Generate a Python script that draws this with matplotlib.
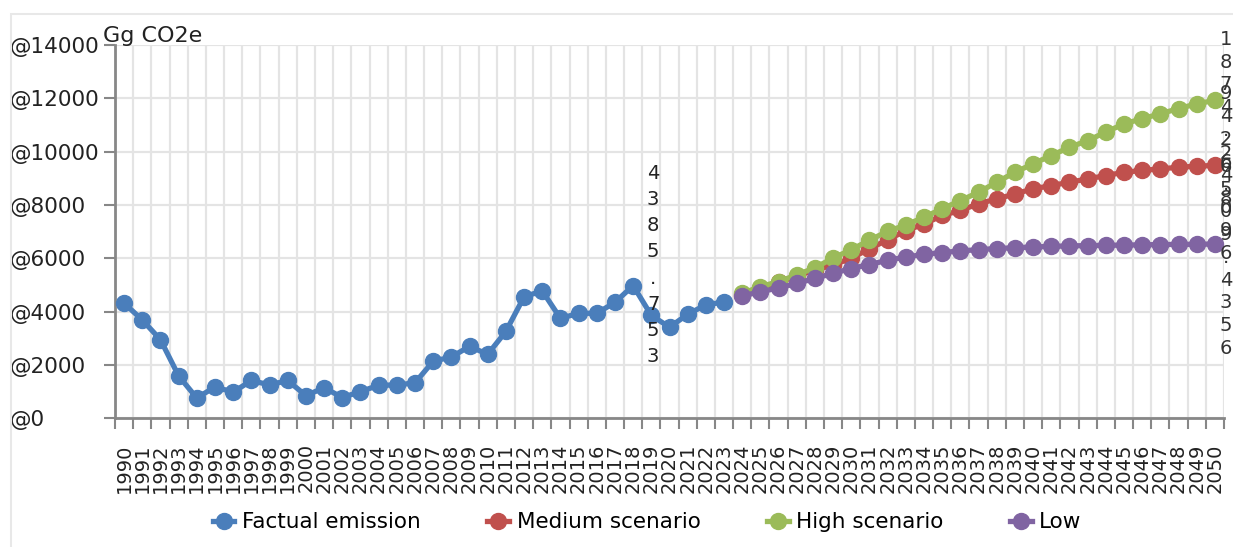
import numpy as np
import matplotlib
matplotlib.use('Agg')
import matplotlib.pyplot as plt
from matplotlib.patches import Rectangle

# data
years = list(range(1990, 2051))
factual_years = list(range(1990, 2024))
scenario_years = list(range(2024, 2051))

factual = [4320, 3690, 2950, 1590, 760, 1180, 980, 1420, 1250, 1420,
           850, 1150, 780, 1000, 1240, 1250, 1330, 2140, 2300, 2700,
           2400, 3260, 4560, 4780, 3750, 3940, 3940, 4350, 4980, 3860,
           3420, 3900, 4260, 4360]
medium = [4640, 4880, 5100, 5340, 5560, 5750, 6010, 6360, 6700, 7040,
          7290, 7610, 7800, 8050, 8230, 8420, 8610, 8730, 8860, 8980,
          9110, 9230, 9300, 9360, 9420, 9460, 9490]
high = [4690, 4940, 5130, 5380, 5650, 6010, 6330, 6680, 7020, 7250,
        7550, 7860, 8170, 8480, 8860, 9230, 9550, 9860, 10170, 10420,
        10740, 11050, 11240, 11430, 11620, 11800, 11930]
low = [4590, 4750, 4890, 5060, 5250, 5440, 5620, 5770, 5930, 6050,
       6150, 6220, 6280, 6330, 6370, 6400, 6430, 6450, 6470, 6480,
       6490, 6500, 6510, 6520, 6525, 6530, 6540]

series_names = ['Factual emission', 'Medium scenario', 'High scenario', 'Low']
colors = ['#4a7ebb', '#c0504d', '#9bbb59', '#8064a2']

yticks = [0, 2000, 4000, 6000, 8000, 10000, 12000, 14000]
ytick_labels = ['@' + str(v) for v in yticks]

# stray stacked data labels seen on the chart
mid_label = '4385.753'
end_labels = ['1874.248', '9426.096', '6509.4356']
end_values = [high[-1] - 700, medium[-1] - 300, low[-1] - 500]

grey = '#878787'
gridc = '#e4e4e4'

W, H = 1233, 547
fig = plt.figure(figsize=(W / 100, H / 100), dpi=100)
ax = fig.add_axes([115 / W, 1 - 418.3 / H, (1224 - 115) / W, (418.3 - 45.2) / H])

ax.plot(factual_years, factual, color=colors[0], lw=3.8, marker='o', ms=11.5, label=series_names[0], zorder=3)
ax.plot(scenario_years, medium, color=colors[1], lw=3.8, marker='o', ms=11.5, label=series_names[1], zorder=3)
ax.plot(scenario_years, high, color=colors[2], lw=3.8, marker='o', ms=11.5, label=series_names[2], zorder=4)
ax.plot(scenario_years, low, color=colors[3], lw=3.8, marker='o', ms=11.5, label=series_names[3], zorder=5)

ax.set_xlim(1989.5, 2050.5)
ax.set_ylim(0, 14000)

ax.set_xticks(years)
ax.set_xticklabels([str(y) for y in years], rotation=90, fontsize=14, color='#222222')
ax.set_xticks(np.arange(1989.5, 2051, 1.0), minor=True)
ax.tick_params(axis='x', which='major', length=0, pad=18)
ax.tick_params(axis='x', which='minor', length=8, width=1.5, color=grey)

ax.set_yticks(yticks)
ax.set_yticklabels(ytick_labels, fontsize=15.5, color='#222222')
ax.tick_params(axis='y', length=8, width=1.5, color=grey, pad=68)
for lbl in ax.get_yticklabels():
    lbl.set_horizontalalignment('left')

ax.grid(axis='x', which='minor', color=gridc, lw=1.6)
ax.grid(axis='y', which='major', color=gridc, lw=1.6)
ax.set_axisbelow(True)

for s in ['top', 'right']:
    ax.spines[s].set_visible(False)
for s in ['left', 'bottom']:
    ax.spines[s].set_color(grey)
    ax.spines[s].set_linewidth(2)

fig.text(103 / W, 1 - 36 / H, 'Gg CO2e', fontsize=16, ha='left', va='center', color='#222222')

ax.text(2019.1, 5750, '\n'.join(mid_label), fontsize=14, ha='center', va='center',
        linespacing=1.48, color='#222222', zorder=6)
for lab, v in zip(end_labels, end_values):
    ax.text(2050.6, v, '\n'.join(lab), fontsize=14, ha='center', va='center',
            linespacing=1.25, color='#333333', clip_on=False, zorder=6)

fig.patches.append(Rectangle((11 / W, -0.05), 1.0, 1 - 14 / H + 0.05, transform=fig.transFigure,
                             fill=False, ec='#e8e8e8', lw=1.5))

fig.legend(loc='center', bbox_to_anchor=(0.525, 0.045), ncol=4, frameon=False, fontsize=15.5,
           handlelength=1.0, handletextpad=0.35, columnspacing=3.1)

fig.savefig('out.png', dpi=100)
